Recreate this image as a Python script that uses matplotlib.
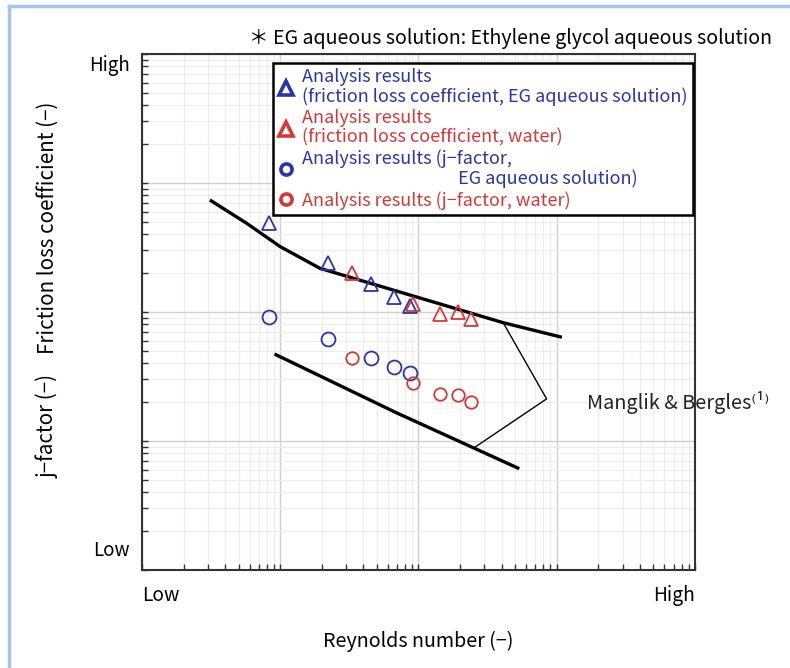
"""Friction loss coefficient and j-factor vs Reynolds number (log-log, qualitative axes)."""

import matplotlib
matplotlib.use("Agg")
import matplotlib.pyplot as plt
from matplotlib.lines import Line2D

plt.rcParams["font.family"] = ["Noto Sans CJK JP", "DejaVu Sans"]

BLUE = "#2b35a8"
RED = "#d23a3a"

# analysis results (Reynolds number, value)
re_f_eg = [83, 223, 451, 668, 869]
f_eg = [0.492, 0.241, 0.165, 0.1315, 0.1114]
re_f_water = [332, 916, 1429, 1923, 2399]
f_water = [0.1995, 0.1153, 0.0964, 0.1005, 0.0877]
re_j_eg = [83, 223, 451, 668, 869]
j_eg = [0.0920, 0.0614, 0.0438, 0.0377, 0.0335]
re_j_water = [332, 916, 1429, 1923, 2399]
j_water = [0.0443, 0.0280, 0.0230, 0.0228, 0.0202]

# Manglik & Bergles correlations
re_mb_f = [31, 57, 100, 194, 4100, 10900]
mb_f = [0.738, 0.488, 0.321, 0.218, 0.0826, 0.0637]
re_mb_j = [91, 697, 5360]
mb_j = [0.0472, 0.0165, 0.0061]
re_bracket = [4100, 8450, 2490]
val_bracket = [0.0826, 0.0212, 0.00877]

legend_labels = [
    "Analysis results\n(friction loss coefficient, EG aqueous solution)",
    "Analysis results\n(friction loss coefficient, water)",
    "Analysis results (j\u2212factor,\n" + " " * 39 + "EG aqueous solution)",
    "Analysis results (j\u2212factor, water)",
]


def main():
    fig = plt.figure(figsize=(7.9, 6.68), dpi=100)
    ax = fig.add_axes([0.1797, 0.1467, 0.70, 0.7725])
    ax.set_xscale("log")
    ax.set_yscale("log")
    ax.set_xlim(10, 1e5)
    ax.set_ylim(1e-3, 10)

    ax.grid(True, which="major", color="#cfcfcf", lw=1.0)
    ax.grid(True, which="minor", color="#ececec", lw=0.8)
    ax.set_axisbelow(True)
    ax.tick_params(which="both", direction="in", length=4, width=1,
                   labelbottom=False, labelleft=False, color="#333333")
    for s in ax.spines.values():
        s.set_color("#333333")
        s.set_linewidth(1.5)

    ax.plot(re_mb_f, mb_f, color="black", lw=2.4, solid_capstyle="butt")
    ax.plot(re_mb_j, mb_j, color="black", lw=2.4, solid_capstyle="butt")
    ax.plot(re_bracket, val_bracket, color="black", lw=1.0)

    mk = dict(ls="none", mfc="none", mew=1.3)
    ax.plot(re_f_eg, f_eg, marker="^", ms=10.5, mec=BLUE, **mk)
    ax.plot(re_f_water, f_water, marker="^", ms=10.5, mec=RED, **mk)
    ax.plot(re_j_eg, j_eg, marker="o", ms=10, mec=BLUE, **mk)
    ax.plot(re_j_water, j_water, marker="o", ms=9, mec=RED, **mk)

    handles = [
        Line2D([], [], ls="none", marker="^", ms=10, mfc="none", mec=BLUE, mew=2.6),
        Line2D([], [], ls="none", marker="^", ms=10, mfc="none", mec=RED, mew=2.6),
        Line2D([], [], ls="none", marker="o", ms=8, mfc="none", mec=BLUE, mew=2.6),
        Line2D([], [], ls="none", marker="o", ms=8, mfc="none", mec=RED, mew=2.6),
    ]
    leg = ax.legend(handles, legend_labels, loc="upper left",
                    bbox_to_anchor=(0.237, 0.983), borderaxespad=0,
                    fontsize=13, handlelength=0.8, handletextpad=0.5,
                    labelspacing=0.15, borderpad=0.3, fancybox=False,
                    framealpha=1, edgecolor="black")
    leg.get_frame().set_linewidth(1.8)
    for txt, c in zip(leg.get_texts(), [BLUE, RED, BLUE, RED]):
        txt.set_color(c)
        txt.set_linespacing(1.1)

    ax.text(0.805, 0.324, "Manglik & Bergles\u207d\u00b9\u207e", transform=ax.transAxes,
            fontsize=14.3, va="center", ha="left", color="#222222")

    # qualitative axis ends
    ax.text(0.0, -0.05, "Low", transform=ax.transAxes, ha="left", va="center", fontsize=13.8)
    ax.text(1.0, -0.05, "High", transform=ax.transAxes, ha="right", va="center", fontsize=13.8)
    ax.text(-0.022, 0.977, "High", transform=ax.transAxes, ha="right", va="center", fontsize=13.5)
    ax.text(-0.022, 0.037, "Low", transform=ax.transAxes, ha="right", va="center", fontsize=13.5)

    fig.text(0.529, 0.040, "Reynolds number (\u2212)", ha="center", va="center", fontsize=14.2)
    fig.text(0.060, 0.659, "Friction loss coefficient (\u2212)", rotation=90,
             ha="center", va="center", fontsize=14.8)
    fig.text(0.060, 0.362, "j\u2212factor (\u2212)", rotation=90,
             ha="center", va="center", fontsize=14.8)
    fig.text(0.977, 0.943, "\uff0a EG aqueous solution: Ethylene glycol aqueous solution",
             ha="right", va="center", fontsize=14.1)

    # light blue frame on the top and left edges
    frame = dict(color="#a4c6ea", lw=2.5, transform=fig.transFigure)
    fig.add_artist(Line2D([0.011, 1.0], [0.991, 0.991], **frame))
    fig.add_artist(Line2D([0.011, 0.011], [0.0, 0.991], **frame))

    fig.savefig("out.png", dpi=100)
    plt.close(fig)


if __name__ == "__main__":
    main()
